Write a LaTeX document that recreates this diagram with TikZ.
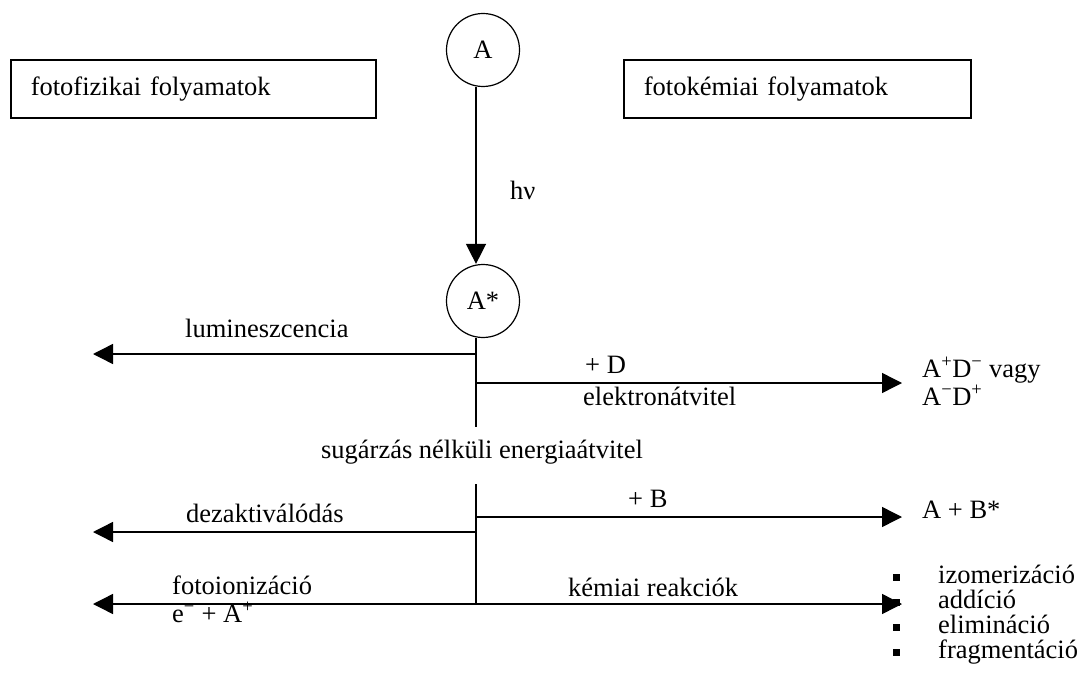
\documentclass[tikz,border=0pt]{standalone}
\usepackage{fontspec}
\setmainfont{Liberation Serif}
\usetikzlibrary{arrows.meta, positioning}

\begin{document}
\begin{tikzpicture}[
  x=1pt, y=-1pt,
  every node/.style={font=\fontsize{26.5}{30}\selectfont, inner sep=0pt},
  state/.style={circle, draw, line width=1.2pt, minimum size=73pt},
  box/.style={rectangle, draw, line width=1.6pt, anchor=north west, minimum height=58pt, text width=#1, inner xsep=20pt, align=left},
  lbl/.style={anchor=base west},
  line/.style={line width=1.4pt},
  arrow/.style={-{Triangle[length=20pt, width=20pt]}, line width=1.4pt},
  doublearrow/.style={{Triangle[length=20pt, width=20pt]}-{Triangle[length=20pt, width=20pt]}, line width=1.4pt},
  bullet/.style={rectangle, fill=black, minimum size=7pt},
]
\useasboundingbox (0,0) rectangle (1081,679);

% Kategoriak
\node[box=325pt] (phys) at (10,59) {fotofizikai folyamatok};
\node[box=307pt] (chem) at (623,59) {fotokémiai folyamatok};

% Gerjesztes
\node[state] (A) at (483,50) {A};
\node[state] (Astar) at (483,301) {A*};
\draw[arrow] ([xshift=-7pt]A.south) -- ([xshift=-7pt]Astar.north);
\node[lbl] (hv) at (510,200) {hν};

% Torzs
\coordinate (lumin) at (476,354);
\coordinate (eltr) at (476,383);
\coordinate (top) at (476,427);
\coordinate (low) at (476,484);
\coordinate (entr) at (476,517);
\coordinate (dezak) at (476,532);
\coordinate (bottom) at (476,604);
\draw[line] ([xshift=-7pt]Astar.south) -- (top);
\draw[line] (low) -- (bottom);

% Vegpontok
\coordinate (luminend) at (93,354);
\coordinate (eltrend) at (902,383);
\coordinate (entrend) at (902,517);
\coordinate (dezakend) at (93,532);
\coordinate (ionend) at (93,604);
\coordinate (reakend) at (902,604);

% Nyilak
\draw[arrow] (lumin) -- (luminend);
\draw[arrow] (eltr) -- (eltrend);
\draw[arrow] (entr) -- (entrend);
\draw[arrow] (dezak) -- (dezakend);
\draw[doublearrow] (ionend) -- (reakend);

% Feliratok
\node[lbl] (lumtxt) at (185,337) {lumineszcencia};
\node[lbl] (plusD) at (585,373) {+ D};
\node[lbl] (eltxt) at (583,405) {elektronátvitel};
\node[lbl] (ad1) at (922,377) {A\textsuperscript{+}D\textsuperscript{−} vagy};
\node[lbl] (ad2) at (922,405) {A\textsuperscript{−}D\textsuperscript{+}};
\node[anchor=base] (sug) at (482,458) {sugárzás nélküli energiaátvitel};
\node[lbl] (plusB) at (628,507) {+ B};
\node[lbl] (ab) at (922,518) {A + B*};
\node[lbl] (dez) at (186,522) {dezaktiválódás};
\node[lbl] (ion) at (172,594) {fotoionizáció};
\node[lbl] (eA) at (172,622) {e\textsuperscript{−} + A\textsuperscript{+}};
\node[lbl] (reak) at (568,596) {kémiai reakciók};

% Reakciotipusok
\foreach \t [count=\i] in {izomerizáció, addíció, elimináció, fragmentáció} {
  \node[bullet] (b\i) at (896,{577+25*(\i-1)}) {};
  \node[lbl] (r\i) at (938,{583+25*(\i-1)}) {\t};
}

\end{tikzpicture}
\end{document}
